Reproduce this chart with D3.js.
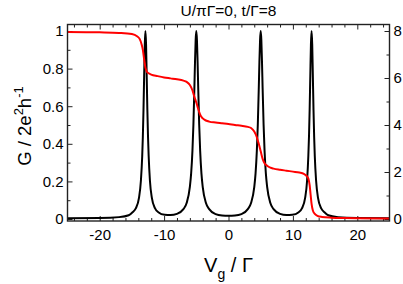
<!DOCTYPE html>
<html>
<head>
<meta charset="utf-8">
<script src="https://cdn.jsdelivr.net/npm/d3@7"></script>
<style>
  body { margin: 0; background: #fff; }
  svg { display: block; font-family: "Liberation Sans", Arial, sans-serif; }
  .frame { fill: none; stroke: #222; stroke-width: 1.4; }
  .axis path { display: none; }
  .axis line { stroke: #222; stroke-width: 1; }
  .axis text { font-size: 15px; fill: #000; }
</style>
</head>
<body>
<svg></svg>
<script>
const WIDTH = 403;
const HEIGHT = 284;

// tick values
const xMajor = [-20, -10, 0, 10, 20];
const xMinor = [-24, -22, -18, -16, -14, -12, -8, -6, -4, -2, 2, 4, 6, 8, 12, 14, 16, 18, 22, 24];
const yLeftMajor = [0, 0.2, 0.4, 0.6, 0.8, 1];
const yLeftMinor = [0.1, 0.3, 0.5, 0.7, 0.9];
const yRightMajor = [0, 2, 4, 6, 8];
const yRightMinor = [1, 3, 5, 7];

// black curve (right axis)
const blackX = [-25, -20, -17, -15.5, -14.9, -14.4, -13.9, -13.6, -13.4, -13.3, -13.2, -13.1, -13.0,
  -12.9, -12.8, -12.7, -12.6, -12.5, -12.4, -12.2, -11.9, -11.4, -10.9, -9.9, -9, -8, -7, -6.5,
  -6, -5.8, -5.6, -5.45, -5.3, -5.2, -5.1, -5, -4.9, -4.8, -4.7, -4.55, -4.4, -4.2, -4, -3.5, -3,
  -2, -1, 0, 1, 2, 3, 3.5, 4, 4.2, 4.4, 4.55, 4.7, 4.8, 4.9, 5, 5.1, 5.2, 5.3, 5.45, 5.6, 5.8, 6,
  6.5, 7, 8, 9, 9.9, 10.9, 11.4, 11.9, 12.2, 12.4, 12.5, 12.6, 12.7, 12.8, 12.9, 13.0, 13.1, 13.2,
  13.3, 13.4, 13.6, 13.9, 14.4, 14.9, 15.5, 17, 20, 25];
const blackY = [0.03, 0.04, 0.08, 0.16, 0.29, 0.45, 0.9, 1.64, 2.67, 3.5, 4.64, 6.06, 7.43,
  8.0, 7.43, 6.06, 4.65, 3.52, 2.7, 1.63, 0.9, 0.45, 0.29, 0.18, 0.17, 0.22, 0.42, 0.68,
  1.37, 1.94, 2.9, 4.01, 5.55, 6.69, 7.62, 8.0, 7.62, 6.69, 5.55, 4.01, 2.9, 1.93, 1.36, 0.68, 0.42,
  0.21, 0.15, 0.14, 0.15, 0.21, 0.42, 0.68, 1.36, 1.93, 2.9, 4.01, 5.55, 6.69, 7.62, 8.0, 7.62, 6.69, 5.55, 4.01, 2.9, 1.94, 1.37,
  0.68, 0.42, 0.22, 0.17, 0.18, 0.29, 0.45, 0.9, 1.63, 2.7, 3.52, 4.65, 6.06, 7.43, 8.0, 7.43, 6.06, 4.64,
  3.5, 2.67, 1.64, 0.9, 0.45, 0.29, 0.16, 0.08, 0.04, 0.03];

// red curve G (left axis)
const redX = [-25, -20, -17, -15, -14.2, -13.8, -13.5, -13.3, -13.1, -12.9, -12.7, -12.4, -12, -11, -10,
  -9, -8, -7, -6.5, -6, -5.6, -5.3, -5, -4.7, -4.4, -4, -3.5, -3, -2, -1, 0, 1, 2, 3, 3.5, 4, 4.4,
  4.7, 5, 5.3, 5.6, 6, 6.5, 7, 8, 9, 10, 11, 11.7, 12.1, 12.4, 12.6, 12.75, 12.9, 13.1, 13.4, 13.8,
  14.5, 16, 18, 20, 25];
const redY = [0.995, 0.993, 0.99, 0.984, 0.972, 0.958, 0.93, 0.9, 0.85, 0.805, 0.785, 0.775, 0.768, 0.76, 0.753,
  0.748, 0.743, 0.736, 0.729, 0.713, 0.685, 0.65, 0.62, 0.585, 0.555, 0.535, 0.524, 0.518, 0.513, 0.509, 0.505, 0.5, 0.496, 0.49, 0.484, 0.465, 0.435,
  0.4, 0.36, 0.32, 0.297, 0.283, 0.273, 0.268, 0.262, 0.257, 0.252, 0.247, 0.24, 0.23, 0.215, 0.18, 0.13, 0.08, 0.045, 0.027, 0.017,
  0.011, 0.007, 0.005, 0.004, 0.003];

const svg = d3.select('svg').attr('width', WIDTH).attr('height', HEIGHT);

const mLeft = 67.5, mRight = 389.5, mTop = 24.5, mBottom = 221;
const x = d3.scaleLinear().domain([-25, 25]).range([mLeft, mRight]);
const yL = d3.scaleLinear().domain([-0.0106, 1.0346]).range([mBottom, mTop]);
const yR = d3.scaleLinear().domain([-0.085, 8.277]).range([mBottom, mTop]);

// minor ticks
svg.append('g').attr('class', 'axis').attr('transform', `translate(0,${mBottom})`)
  .call(d3.axisBottom(x).tickValues(xMinor).tickSize(-3).tickFormat(''));
svg.append('g').attr('class', 'axis').attr('transform', `translate(0,${mTop})`)
  .call(d3.axisTop(x).tickValues(xMinor).tickSize(-3).tickFormat(''));
svg.append('g').attr('class', 'axis').attr('transform', `translate(${mLeft},0)`)
  .call(d3.axisLeft(yL).tickValues(yLeftMinor).tickSize(-3).tickFormat(''));
svg.append('g').attr('class', 'axis').attr('transform', `translate(${mRight},0)`)
  .call(d3.axisRight(yR).tickValues(yRightMinor).tickSize(-3).tickFormat(''));

// major ticks
svg.append('g').attr('class', 'axis').attr('transform', `translate(0,${mBottom})`)
  .call(d3.axisBottom(x).tickValues(xMajor).tickSize(-5).tickPadding(8).tickFormat(d => String(d)));
svg.append('g').attr('class', 'axis').attr('transform', `translate(0,${mTop})`)
  .call(d3.axisTop(x).tickValues(xMajor).tickSize(-5).tickFormat(''));
svg.append('g').attr('class', 'axis').attr('transform', `translate(${mLeft},0)`)
  .call(d3.axisLeft(yL).tickValues(yLeftMajor).tickSize(-5).tickPadding(4)
    .tickFormat(d => (d === 0 || d === 1) ? String(d) : d.toFixed(1)));
svg.append('g').attr('class', 'axis').attr('transform', `translate(${mRight},0)`)
  .call(d3.axisRight(yR).tickValues(yRightMajor).tickSize(-5).tickPadding(4).tickFormat(d => String(d)));

svg.append('clipPath').attr('id', 'plot')
  .append('rect').attr('x', mLeft).attr('y', mTop).attr('width', mRight - mLeft).attr('height', mBottom - mTop);

const lineB = d3.line().x(i => x(blackX[i])).y(i => yR(blackY[i])).curve(d3.curveMonotoneX);
const lineR = d3.line().x(i => x(redX[i])).y(i => yL(redY[i])).curve(d3.curveMonotoneX);

svg.append('path')
  .attr('d', lineB(d3.range(blackX.length)))
  .attr('clip-path', 'url(#plot)')
  .attr('fill', 'none').attr('stroke', '#000').attr('stroke-width', 2);
svg.append('path')
  .attr('d', lineR(d3.range(redX.length)))
  .attr('clip-path', 'url(#plot)')
  .attr('fill', 'none').attr('stroke', '#f00').attr('stroke-width', 2);

svg.append('rect').attr('class', 'frame')
  .attr('x', mLeft).attr('y', mTop).attr('width', mRight - mLeft).attr('height', mBottom - mTop);

// title
svg.append('text').attr('x', (mLeft + mRight) / 2).attr('y', 16)
  .attr('text-anchor', 'middle').attr('font-size', 15.5)
  .text('U/πΓ=0, t/Γ=8');

// x label
const xl = svg.append('text').attr('x', (mLeft + mRight) / 2).attr('y', 272)
  .attr('text-anchor', 'middle').attr('font-size', 20);
xl.append('tspan').text('V');
xl.append('tspan').attr('font-size', 14).attr('dy', 7).text('g');
xl.append('tspan').attr('dy', -7).text(' / Γ');

// y label
const yl = svg.append('text').attr('transform', 'translate(31,126) rotate(-90)')
  .attr('text-anchor', 'middle').attr('font-size', 18.5);
yl.append('tspan').text('G / 2e');
yl.append('tspan').attr('font-size', 13).attr('dy', -8).text('2');
yl.append('tspan').attr('dy', 8).text('h');
yl.append('tspan').attr('font-size', 13).attr('dy', -8).text('-1');
</script>
</body>
</html>
